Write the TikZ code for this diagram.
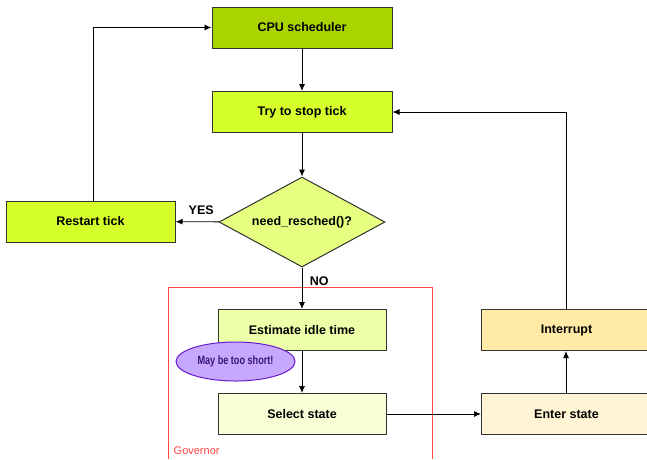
\documentclass[tikz,border=0pt]{standalone}
\usepackage{fontspec}
\setmainfont{Liberation Sans}
\usetikzlibrary{shapes.geometric,arrows.meta}
\definecolor{cpu}{HTML}{AAD400}
\definecolor{lime}{HTML}{D4FF2A}
\definecolor{dia}{HTML}{E5FF80}
\definecolor{est}{HTML}{EEFFAA}
\definecolor{sel}{HTML}{F6FFD5}
\definecolor{intr}{HTML}{FFEAA6}
\definecolor{ent}{HTML}{FFF4D4}
\definecolor{bord}{HTML}{333333}
\definecolor{govred}{HTML}{FF4444}
\definecolor{ellf}{HTML}{C6A8FF}
\definecolor{elld}{HTML}{6A1BD0}
\definecolor{ellt}{HTML}{3A1477}
\tikzset{
  box/.style={draw=bord, line width=1pt, minimum width=168pt, minimum height=41pt, inner sep=0pt, font=\bfseries\fontsize{12.5}{14}\selectfont},
  conn/.style={line width=0.9pt, -{Latex[length=7pt,width=6pt]}},
  lbl/.style={font=\bfseries\fontsize{12.5}{14}\selectfont}
}
\begin{document}
\begin{tikzpicture}[x=1pt,y=-1pt]
\useasboundingbox (0,0) rectangle (647,459);
\node[box, fill=cpu, minimum width=180pt] (cpu) at (302,27.5) {CPU scheduler};
\node[box, fill=lime, minimum width=180pt] (try) at (302,112) {Try to stop tick};
\node[diamond, draw=bord, line width=1pt, fill=dia, minimum width=166pt, minimum height=90pt, inner sep=0pt, font=\bfseries\fontsize{12.5}{14}\selectfont, aspect=1.85] (need) at (302,222) {need\_resched()?};
\node[box, fill=lime, minimum width=169pt] (restart) at (90.5,221.5) {Restart tick};
\draw[govred, line width=1pt] (168,459) -- (168,287) -- (432,287) -- (432,459);
\node[anchor=west, text=govred, font=\fontsize{11}{12}\selectfont, inner sep=0pt] (gov) at (173.5,451) {Governor};
\node[box, fill=est] (est) at (302,330) {Estimate idle time};
\node[box, fill=sel] (sel) at (302,414) {Select state};
\node[box, fill=intr, minimum width=170pt, anchor=west] (intr) at (481,330) {Interrupt};
\node[box, fill=ent, minimum width=170pt, anchor=west] (ent) at (481,414) {Enter state};
\node[ellipse, draw=elld, line width=1pt, fill=ellf, minimum width=119pt, minimum height=39pt, inner sep=0pt, text=ellt, font=\bfseries\fontsize{12}{13}\selectfont] (ell) at (235.5,361.5) {\addfontfeatures{FakeStretch=0.76}May be too short!};
\draw[conn] (cpu) -- (try);
\draw[conn] (try) -- (need);
\draw[conn] (need) -- node[lbl, above, yshift=3pt, xshift=4pt] {YES} (restart);
\draw[conn] (need) -- node[lbl, pos=0.33, right, xshift=4pt] {NO} (est);
\draw[conn] (restart.north -| 93,0) |- (cpu.west);
\draw[conn] (est) -- (sel);
\draw[conn] (sel) -- (ent);
\draw[conn] (ent.north -| 566,0) -- (intr.south -| 566,0);
\draw[conn] (intr.north -| 566,0) |- (try.east);
\end{tikzpicture}
\end{document}
